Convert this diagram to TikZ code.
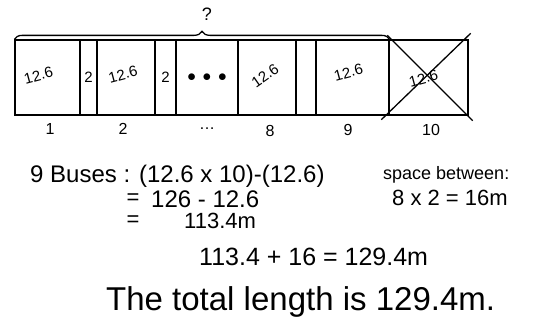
\documentclass[tikz,border=0pt]{standalone}
\usepackage{fontspec}
\setmainfont{Liberation Sans}
\usetikzlibrary{decorations.pathreplacing}
\tikzset{bus/.style = {shape = rectangle, draw, line width = 1.3pt, minimum height = 75pt, inner sep = 0pt}}
\tikzset{brace/.style = {decorate, decoration = {brace, amplitude = 8pt}, line width = 1.3pt}}
\tikzset{lbl/.style = {font = \fontsize{15}{17}\selectfont, inner sep = 1pt}}
\tikzset{num/.style = {font = \fontsize{16}{18}\selectfont}}
\tikzset{hand/.style = {font = \fontsize{22}{26}\selectfont, inner sep = 0pt}}

\begin{document}
\begin{tikzpicture}[x = 1pt, y = -1pt]
				\useasboundingbox (0, 0) rectangle (552, 324);

				% the row of buses and gaps
				\node[bus, minimum width = 65pt] (b1) at (47.5, 77.5) {};
				\node[bus, minimum width = 17pt] (g1) at (88.5, 77.5) {};
				\node[bus, minimum width = 58pt] (b2) at (126, 77.5) {};
				\node[bus, minimum width = 21pt] (g2) at (165.5, 77.5) {};
				\node[bus, minimum width = 62pt] (bd) at (207, 77.5) {};
				\node[bus, minimum width = 58pt] (b8) at (267, 77.5) {};
				\node[bus, minimum width = 20pt] (g8) at (306, 77.5) {};
				\node[bus, minimum width = 73pt] (b9) at (352.5, 77.5) {};
				\node[bus, minimum width = 79pt] (b10) at (428.5, 77.5) {};

				\node[lbl, rotate = 15] (l1) at ([shift = {(-9, -2)}]b1.center) {12.6};
				\node[lbl] (lg1) at (g1.center) {2};
				\node[lbl, rotate = 15] (l2) at ([shift = {(-3, -3)}]b2.center) {12.6};
				\node[lbl] (lg2) at (g2.center) {2};
				\node[font = \fontsize{18}{20}\selectfont] (ld) at (bd.center) {$\bullet\,\bullet\,\bullet$};
				\node[lbl, rotate = 35] (l8) at ([shift = {(-2, -2)}]b8.center) {12.6};
				\node[lbl, rotate = 15] (l9) at ([shift = {(-4, -5)}]b9.center) {12.6};
				\node[lbl, rotate = 15] (l10) at ([shift = {(-5, 1)}]b10.center) {12.6};

				% bus 10 crossed out
				\draw[line width = 1.3pt] ([shift = {(-1, -4)}]b10.north west) -- ([shift = {(4, 5)}]b10.south east);
				\draw[line width = 1.3pt] ([shift = {(-7, 4)}]b10.south west) -- ([shift = {(2, -6)}]b10.north east);

				\draw[brace] (b1.north west) -- (b9.north east);
				\node[num, font = \fontsize{18}{20}\selectfont] (q) at (207, 14) {?};

				\node[num] (n1) at (50, 129) {1};
				\node[num] (n2) at (123, 129) {2};
				\node[num] (nd) at (207, 129) {\dots};
				\node[num] (n8) at (270, 131) {8};
				\node[num] (n9) at (348, 130) {9};
				\node[num] (n10) at (431, 130) {10};

				% working
				\node[hand, anchor = west, font = \fontsize{24}{28}\selectfont] (buses) at (30, 176) {9 Buses : (12.6 x 10)-(12.6)};
				\node[hand, anchor = west, font = \fontsize{18}{22}\selectfont] (space) at (383, 175) {space between:};
				\node[hand] (eqa) at (133, 199) {=};
				\node[hand, anchor = west, font = \fontsize{24}{28}\selectfont] (diff) at (151, 199) {126 - 12.6};
				\node[hand, anchor = west] (prod) at (392, 198) {8 x 2 = 16m};
				\node[hand] (eqb) at (133, 221) {=};
				\node[hand, anchor = west] (nine) at (184, 221) {113.4m};
				\node[hand, anchor = west, font = \fontsize{25}{29}\selectfont] (sum) at (199, 257) {113.4 + 16 = 129.4m};
				\node[hand, anchor = west, font = \fontsize{33}{38}\selectfont] (total) at (106, 302) {The total length is 129.4m.};
			\end{tikzpicture}
\end{document}
